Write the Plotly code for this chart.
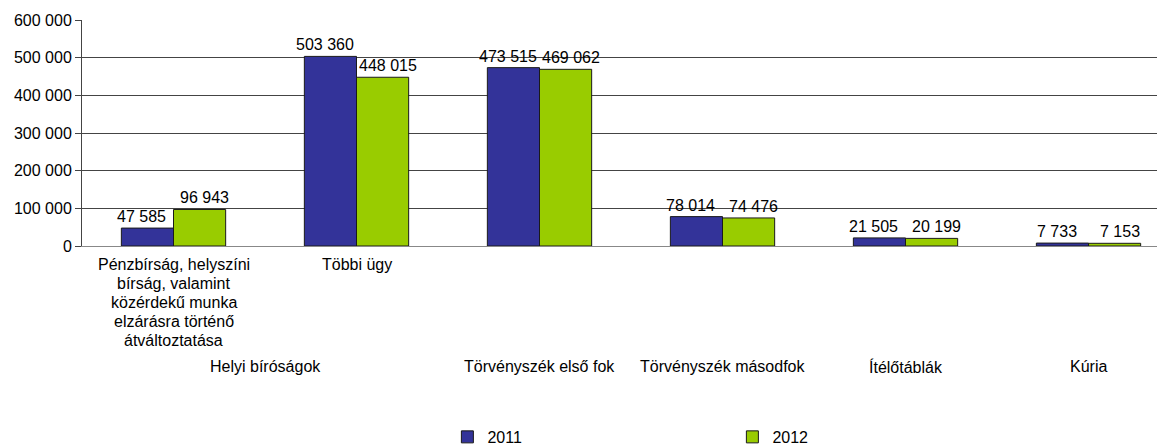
import plotly.graph_objects as go

categories = ["penz", "tobbi", "tsz1", "tsz2", "itelo", "kuria"]
sub_labels = [
    ["Pénzbírság, helyszíni", "bírság, valamint", "közérdekű munka", "elzárásra történő", "átváltoztatása"],
    ["Többi ügy"],
]
group_labels = ["Helyi bíróságok", "Törvényszék első fok", "Törvényszék másodfok", "Ítélőtáblák", "Kúria"]
vals_2011 = [47585, 503360, 473515, 78014, 21505, 7733]
vals_2012 = [96943, 448015, 469062, 74476, 20199, 7153]

font = "Liberation Sans, Arial, sans-serif"
fs = 16

fig = go.Figure()
fig.add_bar(x=categories, y=vals_2011, name="2011", marker_color="#333399",
            marker_line=dict(color="#1a1a1a", width=1))
fig.add_bar(x=categories, y=vals_2012, name="2012", marker_color="#99CC00",
            marker_line=dict(color="#1a1a1a", width=1))

ann = []
# value labels, nudged apart like the original
for vals, dx in [(vals_2011, -32), (vals_2012, 31)]:
    for c, v in zip(categories, vals):
        ann.append(dict(x=c, y=v, xref="x", yref="y", text=f"{v:,}".replace(",", " "),
                        showarrow=False, yanchor="bottom", xshift=dx, yshift=1,
                        font=dict(size=fs, color="black")))
for i, lines in enumerate(sub_labels):
    for j, line in enumerate(lines):
        ann.append(dict(x=categories[i], y=0, xref="x", yref="y", text=line,
                        showarrow=False, yanchor="top", yshift=-8 - 19 * j,
                        font=dict(size=fs, color="black")))
# group labels
ann.append(dict(x=0.5, y=0, xref="x", yref="y", text=group_labels[0], showarrow=False,
                yanchor="top", yshift=-110, font=dict(size=fs, color="black")))
for k, g in enumerate(group_labels[1:]):
    ann.append(dict(x=categories[k + 2], y=0, xref="x", yref="y", text=g, showarrow=False,
                    yanchor="top", yshift=-110, font=dict(size=fs, color="black")))

# page body has an 8px margin, so the figure is 8px smaller
fig.update_layout(
    width=1157, height=437,
    margin=dict(l=74, r=2, t=12, b=199, autoexpand=False),
    plot_bgcolor="white", paper_bgcolor="white",
    font=dict(family=font, size=fs, color="black"),
    separators=", ",
    barmode="group", bargap=0.43, bargroupgap=0,
    showlegend=True,
    legend=dict(orientation="h", x=0.338, xanchor="left", y=-0.845, yanchor="middle",
                entrywidth=240, font=dict(size=fs), itemwidth=30),
    annotations=ann,
)
fig.update_xaxes(type="category", range=[-0.5, 5.407], showticklabels=False,
                 showline=True, linecolor="#888888", linewidth=1, ticks="", automargin=False)
fig.update_yaxes(range=[0, 600000], dtick=100000, tickformat=",", showgrid=True,
                 gridcolor="#444444", gridwidth=1, showline=True, linecolor="#444444",
                 ticks="outside", ticklen=6, tickcolor="#444444", zeroline=False,
                 automargin=False, tickfont=dict(size=fs))

fig.write_html("out.html")
